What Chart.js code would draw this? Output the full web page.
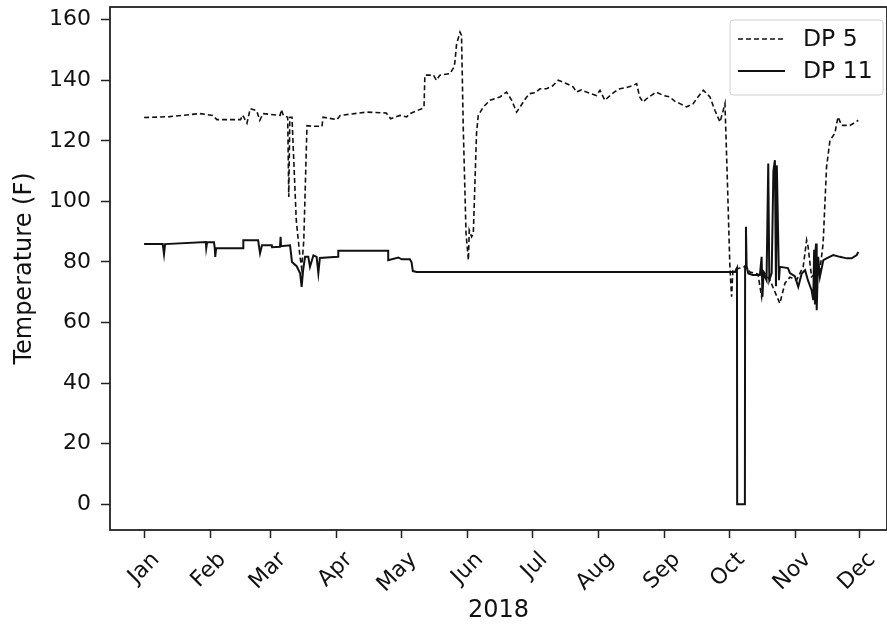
<!DOCTYPE html>
<html>
<head>
<meta charset="utf-8">
<script src="https://cdn.jsdelivr.net/npm/chart.js@4.4.0/dist/chart.umd.min.js"></script>
<style>
  html, body { margin: 0; padding: 0; background: #fff; }
  #wrap { width: 887px; height: 625px; position: relative; }
</style>
</head>
<body>
<div id="wrap"><canvas id="chart"></canvas></div>
<script>
// ===== data (x = days since 1 Jan 2018) =====
const monthDays = [0, 31, 59, 90, 120, 151, 181, 212, 243, 273, 304, 334];
const monthLabels = ["Jan", "Feb", "Mar", "Apr", "May", "Jun", "Jul", "Aug", "Sep", "Oct", "Nov", "Dec"];
const yTicks = [0, 20, 40, 60, 80, 100, 120, 140, 160];

const dp5Day = [
  0, 12, 26, 32, 34, 45, 46, 48, 49.5, 52.5, 54, 55.5, 63.5, 64, 65, 67, 67.5, 68, 69,
  71, 72.7, 73.5, 74.5, 76, 79, 83, 83.5, 90, 91.5, 104, 113, 115, 119.4, 122.5, 124,
  129.5, 130.6, 131, 135, 136.4, 138, 142.7, 144.6, 145, 145.8, 147.4, 148.1, 148.9,
  150.2, 151.3, 151.7, 152.8, 153.6, 155.1, 155.9, 158.3, 161.4, 163.5, 166, 169.1, 171.5,
  173.8, 175.4, 178.5, 180, 182.5, 184.7, 187.8, 190.5, 193.2, 195.5, 198, 200.2, 201.7, 204, 206.4, 211,
  212.7, 215, 217.4, 220, 222, 225, 228.2, 229.8, 231.2, 232.8, 234.4, 237, 239, 242.2, 245.3, 247.5, 250,
  253.1, 256.2, 258.5, 260.9, 264, 266.3, 268.7, 270.2, 271, 272, 273.3, 274.1, 274.7, 278,
  280.8, 282.6, 286.4, 288.1, 289.2, 292, 296.6, 299, 301.3, 304.4, 307.5, 309.1,
  309.8, 311.4, 315.3, 316.8, 318.4, 320, 322.3, 323.1, 323.8, 325.4, 329.3, 331.7, 333.2
];
const dp5Temp = [
  127.7, 128, 129, 128.4, 127, 127, 128.5, 125.8, 130.6, 130, 126.8, 129, 128.4, 130.3, 128.4, 127.8, 101.5, 127.8, 127.8,
  93.8, 82, 78, 87, 125, 124.8, 124.8, 127.8, 127, 128.4, 129.5, 129.2, 127.3, 128.4, 127.9, 129,
  130.6, 131.2, 141.7, 141.7, 140, 141.7, 142.2, 144.4, 146, 152, 155.9, 154.8, 124.6,
  89.4, 80.6, 90.5, 88.3, 89.4, 122.4, 128.4, 131.2, 133.4, 133.9, 134.5, 136.1, 133.4,
  129.5, 131.2, 134.5, 135.6, 135.9, 137.2, 137.2, 138.1, 140, 139.4, 138.6, 137.8, 136.1, 136.8, 136.1, 135,
  136.7, 133.4, 135, 136.4, 137.2, 137.6, 138.3, 138.9, 134.5, 132.8, 133.9, 135.2, 136.1, 135, 134.5, 133.1, 132.3,
  131.2, 132.3, 134.6, 136.7, 134.5, 130.1, 126.2, 130.1, 132.3, 110, 78.4, 68.5, 77.3, 78,
  78.6, 76.7, 76, 68.5, 76.7, 74, 66.3, 73, 75, 74, 78.4, 87.2,
  85, 75.1, 77.3, 86.1, 111.4, 120.2, 122.5, 125.7, 127.9, 125.1, 125.1, 126.1, 126.8
];

const dp11Day = [
  0, 8.7, 9.3, 9.8, 28.8, 29, 29.4, 32.6, 33, 33.2, 33.6, 46.2, 46.3, 53.2, 54.1, 55,
  59.6, 59.7, 63.4, 63.7, 63.9, 68.1, 69, 71.2, 72.8, 73.5, 74.2, 75.1, 76.6, 77.4, 79,
  80.5, 81.3, 82, 90.5, 90.6, 113.9, 113.9, 118.6, 120.2, 124, 124.8, 125.4, 127.2,
  275.7, 276.6, 276.7, 280.3, 280.4, 280.8, 281.1, 281.9, 284, 287.3, 288.1, 288.5,
  289, 290.4, 291.2, 291.7, 292.8, 293.6, 294.3, 294.8, 295.2, 296.2, 296.6, 300.4,
  301.3, 303.6, 305.2, 306.8, 308.4, 309.7, 311.4, 312.2, 312.6, 313, 313.2, 313.5,
  313.8, 314.5, 315.3, 316.9, 318.4, 321.5, 324.6, 327.8, 330.1, 332.5, 333.2
];
const dp11Temp = [
  85.9, 85.9, 82.6, 85.9, 86.6, 84.6, 86.5, 86.5, 84.5, 81.7, 84.5, 84.5, 87.2, 87.2, 82.9, 85.5,
  85.5, 84.9, 85, 88.3, 85.2, 85.5, 80, 78.6, 76.3, 71.8, 77.3, 81.7, 81.7, 78.4, 82.2,
  81.7, 76.3, 81.3, 81.7, 83.7, 83.7, 80.6, 81.5, 80.9, 80.9, 79.9, 77, 76.7,
  76.7, 78, 0, 0, 78.6, 91.6, 78.6, 76.2, 75.7, 75.7, 81.7, 68.5,
  76.3, 74, 112.5, 74, 76.3, 110, 113.6, 72, 111.9, 74, 78.4, 78,
  76.3, 75.3, 71.8, 76.2, 77.3, 74, 70.7, 67.4, 84, 66, 83, 86.1,
  64.1, 81.7, 75.1, 80.6, 81.2, 82.3, 81.7, 81.2, 81.2, 82.3, 83.3
];

const FONT = "'DejaVu Sans', sans-serif";
const INK = "#111";

function toPoints(days, vals) {
  return days.map((d, i) => ({ x: d, y: vals[i] }));
}

// frame + legend drawn inside the plot like the original figure
const framePlugin = {
  id: "frame",
  afterDatasetsDraw(chart) {
    const { ctx, chartArea: a } = chart;
    ctx.save();
    ctx.strokeStyle = "#222";
    ctx.lineWidth = 1.8;
    ctx.strokeRect(a.left, a.top, a.right - a.left, a.bottom - a.top);

    // legend box
    const bx = 730, by = 20, bw = 153, bh = 75;
    ctx.fillStyle = "rgba(255,255,255,0.85)";
    ctx.strokeStyle = "#cfcfcf";
    ctx.lineWidth = 1;
    ctx.beginPath();
    ctx.roundRect(bx, by, bw, bh, 3);
    ctx.fill();
    ctx.stroke();

    chart.data.datasets.forEach((ds, i) => {
      const y = 39 + i * 32;
      ctx.strokeStyle = ds.borderColor;
      ctx.lineWidth = ds.borderWidth;
      ctx.setLineDash(ds.borderDash || []);
      ctx.beginPath();
      ctx.moveTo(738, y);
      ctx.lineTo(785, y);
      ctx.stroke();
      ctx.setLineDash([]);
      ctx.fillStyle = INK;
      ctx.font = "23.5px " + FONT;
      ctx.textBaseline = "middle";
      ctx.textAlign = "left";
      ctx.fillText(ds.label, 803, y + 1);
    });
    ctx.restore();
  },
};

new Chart(document.getElementById("chart"), {
  type: "line",
  data: {
    datasets: [
      {
        label: "DP 5",
        data: toPoints(dp5Day, dp5Temp),
        borderColor: INK,
        borderWidth: 1.6,
        borderDash: [5, 3],
        pointRadius: 0,
        tension: 0,
        fill: false,
      },
      {
        label: "DP 11",
        data: toPoints(dp11Day, dp11Temp),
        borderColor: INK,
        borderWidth: 2,
        pointRadius: 0,
        tension: 0,
        fill: false,
      },
    ],
  },
  options: {
    animation: false,
    responsive: true,
    maintainAspectRatio: false,
    layout: { padding: { top: 7, right: 0, left: 0, bottom: 0 } },
    plugins: { legend: { display: false }, tooltip: { enabled: false } },
    scales: {
      x: {
        type: "linear",
        min: -15.9,
        max: 346.6,
        afterFit(scale) { scale.height = 95; scale.paddingLeft = 0; scale.paddingRight = 0; },
        afterBuildTicks(scale) { scale.ticks = monthDays.map(v => ({ value: v })); },
        grid: { drawOnChartArea: false, tickLength: 8, tickColor: "#222", tickWidth: 1.5 },
        border: { display: false },
        ticks: {
          autoSkip: false,
          minRotation: 45,
          maxRotation: 45,
          padding: 9,
          labelOffset: 12,
          color: INK,
          font: { size: 22, family: FONT },
          callback: (v) => monthLabels[monthDays.indexOf(v)] ?? "",
        },
        title: { display: true, text: "2018", color: INK, font: { size: 24, family: FONT }, padding: { top: 0, bottom: 0 } },
      },
      y: {
        min: -8.5,
        max: 164.2,
        afterFit(scale) { scale.width = 110; scale.paddingTop = 0; scale.paddingBottom = 0; },
        afterBuildTicks(scale) { scale.ticks = yTicks.map(v => ({ value: v })); },
        grid: { drawOnChartArea: false, tickLength: 9, tickColor: "#222", tickWidth: 1.5 },
        border: { display: false },
        ticks: { padding: 10, color: INK, font: { size: 22, family: FONT } },
        title: { display: true, text: "Temperature (F)", color: INK, font: { size: 24, family: FONT }, padding: { top: 10, bottom: 0 } },
      },
    },
  },
  plugins: [framePlugin],
});
</script>
</body>
</html>
